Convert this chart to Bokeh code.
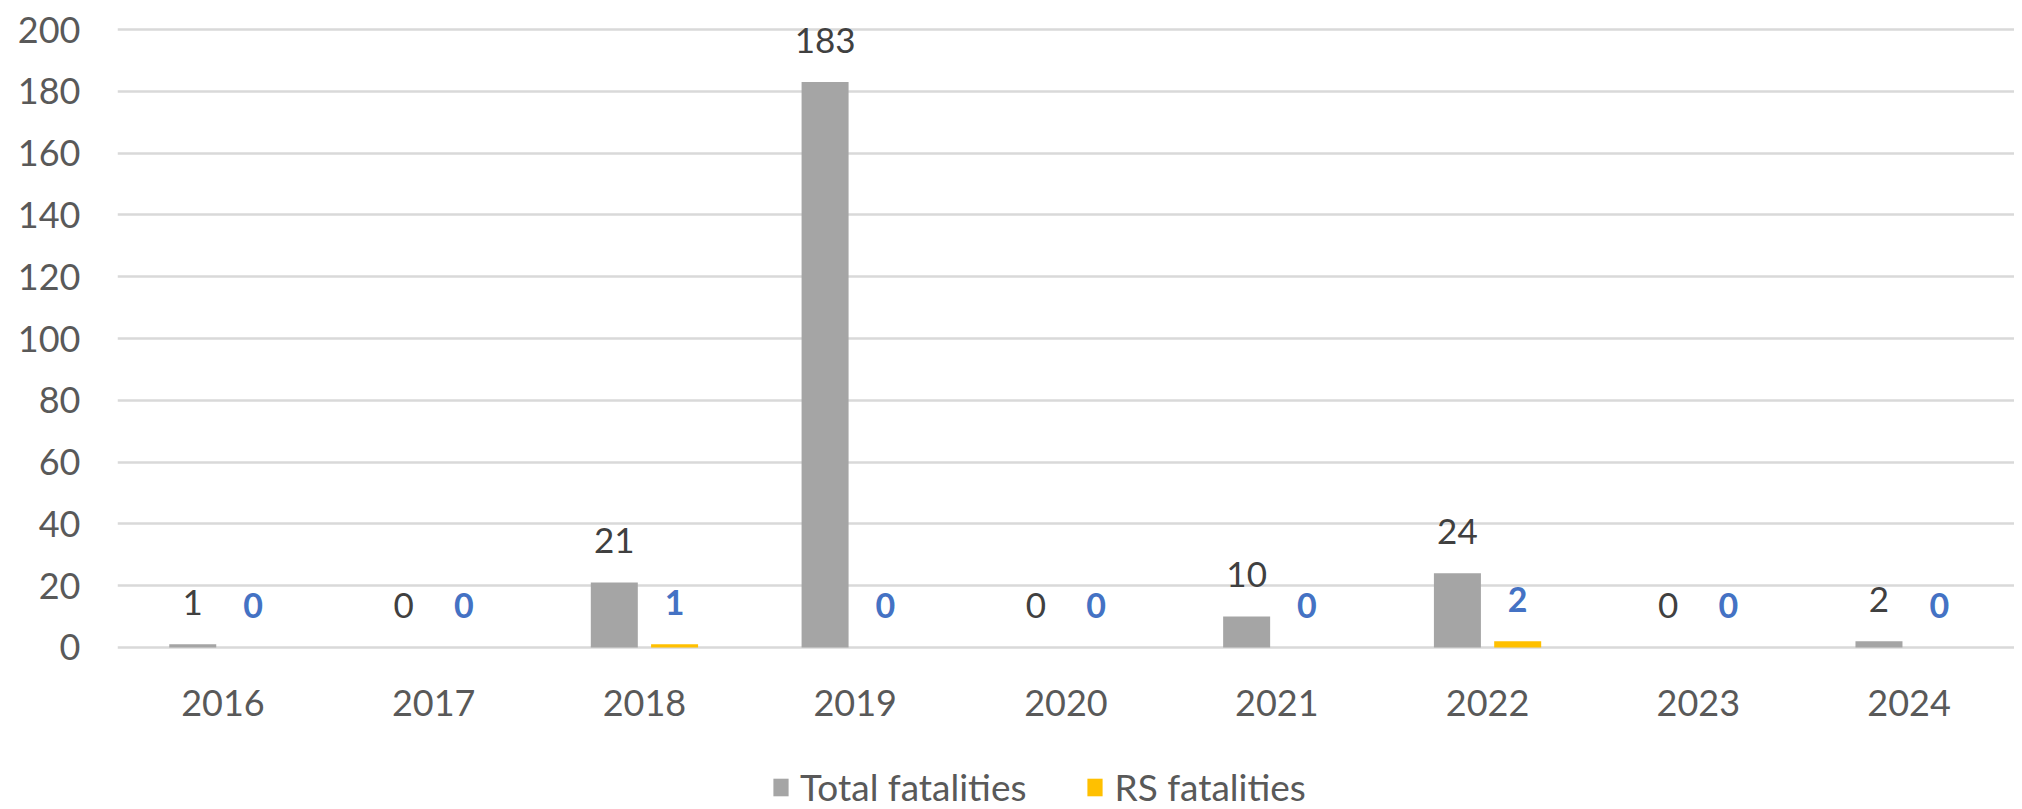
from bokeh.plotting import figure
from bokeh.models import (ColumnDataSource, FactorRange, Range1d, Legend, LegendItem,
                          FixedTicker)
from bokeh.layouts import column
from bokeh.transform import dodge
from bokeh.core.properties import value
from bokeh.embed import file_html
from bokeh.resources import INLINE

years = ["2016", "2017", "2018", "2019", "2020", "2021", "2022", "2023", "2024"]
total_fatalities = [1, 0, 21, 183, 0, 10, 24, 0, 2]
rs_fatalities = [0, 0, 1, 0, 0, 0, 2, 0, 0]
y_ticks = [0, 20, 40, 60, 80, 100, 120, 140, 160, 180, 200]
series_names = ["Total fatalities", "RS fatalities"]
series_fields = ["total", "rs"]
series_colors = ["#A5A5A5", "#FFC000"]

FONT = "Lato"

src = ColumnDataSource(dict(
    year=years,
    total=total_fatalities,
    rs=rs_fatalities,
    total_lbl=[str(v) for v in total_fatalities],
    rs_lbl=[str(v) for v in rs_fatalities],
))

p = figure(x_range=FactorRange(*years), y_range=Range1d(-1, 201),
           width=2014, height=760, output_backend="svg", toolbar_location=None,
           min_border_left=117, min_border_right=0, min_border_top=26,
           min_border_bottom=110)
p.outline_line_color = None
p.background_fill_color = "white"
p.border_fill_color = "white"

w = 0.223
off = 0.143
p.vbar(x=dodge("year", -off, range=p.x_range), top="total", width=w,
       source=src, fill_color=series_colors[0], line_color=None)
p.vbar(x=dodge("year", off, range=p.x_range), top="rs", width=w,
       source=src, fill_color=series_colors[1], line_color=None)

p.text(x=dodge("year", -off, range=p.x_range), y="total", text="total_lbl", source=src,
       text_align="center", text_baseline="middle", y_offset=-42,
       text_font=value(FONT), text_font_size="35px", text_color="#404040")
p.text(x=dodge("year", off, range=p.x_range), y="rs", text="rs_lbl", source=src,
       text_align="center", text_baseline="middle", y_offset=-42,
       text_font=value(FONT), text_font_size="34px", text_font_style="bold",
       text_color="#4472C4")

p.xgrid.grid_line_color = None
p.ygrid.grid_line_color = "#D9D9D9"
p.ygrid.grid_line_width = 2.5
p.yaxis.ticker = FixedTicker(ticks=y_ticks)

for ax in (p.xaxis[0], p.yaxis[0]):
    ax.axis_line_color = None
    ax.major_tick_line_color = None
    ax.minor_tick_line_color = None
    ax.major_tick_out = 0
    ax.major_tick_in = 0
    ax.major_label_text_font = FONT
    ax.major_label_text_font_size = "36px"
    ax.major_label_text_color = "#595959"

p.yaxis.major_label_standoff = 37
p.xaxis.major_label_standoff = 39

# legend strip underneath the chart (its bars lie outside its visible y range)
lf = figure(width=2014, height=49, output_backend="svg", toolbar_location=None,
            x_range=FactorRange(*years), y_range=Range1d(1000, 1001),
            min_border_left=0, min_border_right=0, min_border_top=0, min_border_bottom=0)
lf.axis.visible = False
lf.grid.visible = False
lf.outline_line_color = None
lf.border_fill_color = "white"
items = []
for name, field, col in zip(series_names, series_fields, series_colors):
    r = lf.vbar(x="year", top=field, width=0.2, source=src, fill_color=col, line_color=None)
    items.append(LegendItem(label=name, renderers=[r]))

legend = Legend(items=items, orientation="horizontal", location=(654, 0),
                label_text_font=FONT, label_text_font_size="37px",
                label_text_color="#595959", glyph_width=19, glyph_height=22,
                spacing=59, label_standoff=10, border_line_color=None,
                background_fill_alpha=0, margin=0, padding=0)
lf.add_layout(legend, "center")

layout = column(p, lf, spacing=0)
open("out.html", "w").write(file_html(layout, INLINE))
